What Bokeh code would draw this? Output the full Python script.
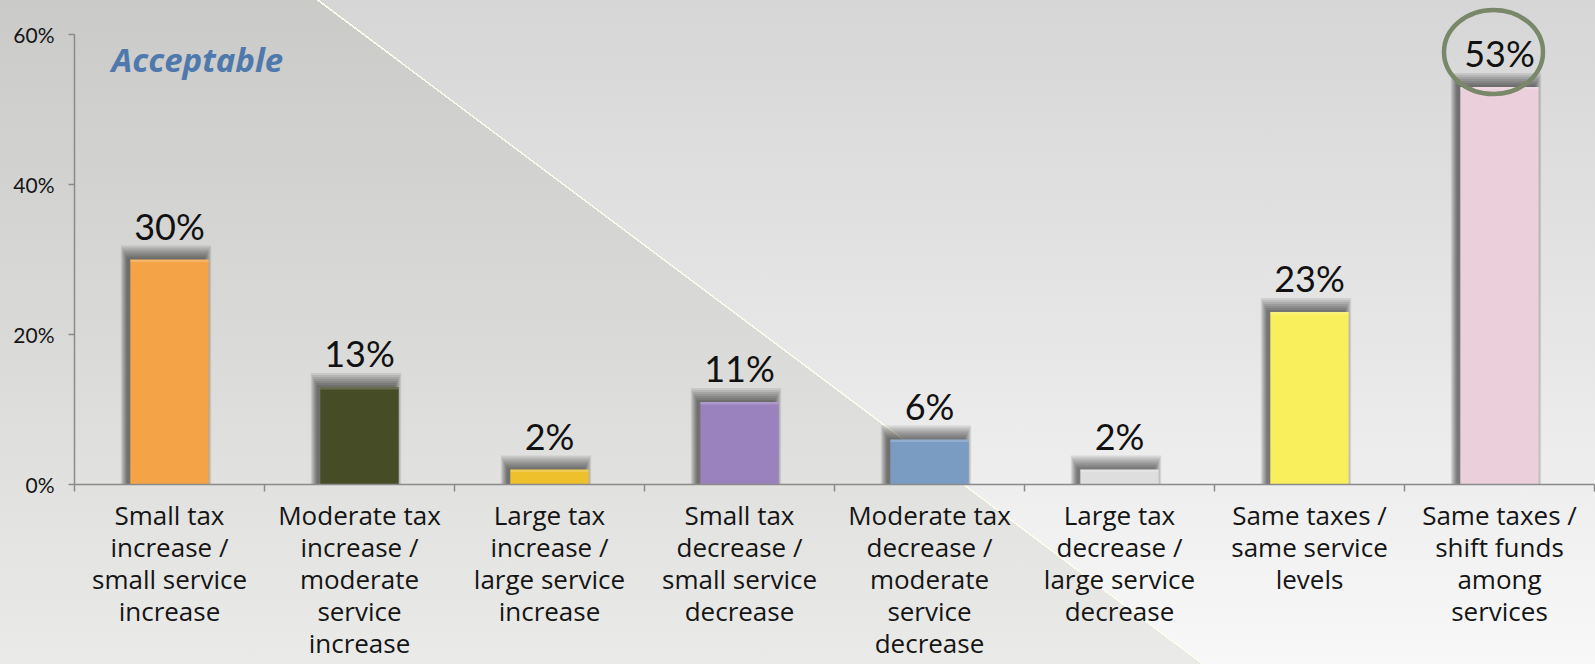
from bokeh.plotting import figure
from bokeh.models import FixedTicker, PrintfTickFormatter, Label, Range1d
from bokeh.core.properties import value
from bokeh.embed import file_html
from bokeh.resources import INLINE

# ---------------- data ----------------
categories = [
    "Small tax\nincrease /\nsmall service\nincrease",
    "Moderate tax\nincrease /\nmoderate\nservice\nincrease",
    "Large tax\nincrease /\nlarge service\nincrease",
    "Small tax\ndecrease /\nsmall service\ndecrease",
    "Moderate tax\ndecrease /\nmoderate\nservice\ndecrease",
    "Large tax\ndecrease /\nlarge service\ndecrease",
    "Same taxes /\nsame service\nlevels",
    "Same taxes /\nshift funds\namong\nservices",
]
values = [30, 13, 2, 11, 6, 2, 23, 53]
value_labels = ["30%", "13%", "2%", "11%", "6%", "2%", "23%", "53%"]
colors = ["#F4A447", "#464C26", "#EEC12C", "#9A82BE", "#7A9BC2",
          "#DEDEDE", "#F9EE5B", "#EBD0DC"]
y_ticks = [0, 20, 40, 60]
highlight_index = 7
title_text = "Acceptable"

# ---------------- geometry / style ----------------
W, H = 1595, 664
FRAME_LEFT, FRAME_RIGHT, FRAME_BOTTOM = 74, 1, 180
PX_PER_PCT = 7.5
n = len(categories)
xs = [i + 0.5 for i in range(n)]
bar_w = 0.4125
frame_w = W - FRAME_LEFT - FRAME_RIGHT
px_x = frame_w / n  # pixels per category unit
y_top = (H - FRAME_BOTTOM) / PX_PER_PCT

# background: vertical light-grey gradient plus a darker diagonal wedge on the left
background = (
    "linear-gradient(36.87deg, rgba(40,40,10,0.065) 0px, rgba(40,40,10,0.065) 721px, "
    "rgba(255,255,235,0.9) 721px, rgba(255,255,235,0.9) 722.5px, "
    "rgba(0,0,0,0) 722.5px), "
    "linear-gradient(to bottom, #d6d6d6 0%, #e6e6e6 50%, #f8f8f8 100%)"
)

p = figure(width=W, height=H, x_range=Range1d(0, n), y_range=Range1d(0, y_top),
           output_backend="svg", toolbar_location=None,
           min_border_left=FRAME_LEFT, min_border_right=FRAME_RIGHT,
           min_border_top=0, min_border_bottom=FRAME_BOTTOM,
           styles={"background": background})
p.outline_line_color = None
p.grid.visible = False
p.background_fill_color = None
p.border_fill_color = None

# ---------------- bar shadows (soft, offset up-left) ----------------
for k in range(7):
    grow_px = 2 * k
    p.vbar(x=[x - 3.5 / px_x for x in xs], width=bar_w + grow_px / px_x,
           top=[v + (2 + grow_px) / PX_PER_PCT for v in values], bottom=0,
           fill_color="black", fill_alpha=0.09, line_color=None)

# ---------------- bars ----------------
p.vbar(x=xs, width=bar_w, top=values, bottom=0, fill_color=colors,
       line_color=None)
# light bevel on top edge
p.vbar(x=xs, width=bar_w, top=values,
       bottom=[v - 2.5 / PX_PER_PCT for v in values],
       fill_color="white", fill_alpha=0.18, line_color=None)

# ---------------- value labels ----------------
p.text(x=xs, y=[v + 34 / PX_PER_PCT for v in values], text=value_labels,
       text_align="center", text_baseline="alphabetic",
       text_font=value("Lato"), text_font_size="36px", text_color="#111111")

# highlight ellipse
p.ellipse(x=[xs[highlight_index] - 6 / px_x],
          y=[values[highlight_index] + 35 / PX_PER_PCT],
          width=99, height=84, width_units="screen", height_units="screen",
          fill_color=None, line_color="#788868", line_width=4.5)

# title label
p.add_layout(Label(x=(111 - 74) / px_x, y=(484.7 - 60) / PX_PER_PCT,
                   text=title_text, text_font="Noto Sans",
                   text_font_style="bold italic", text_font_size="33px",
                   text_color="#4F79AD", text_baseline="middle"))

# ---------------- axes ----------------
xa = p.xaxis[0]
xa.ticker = FixedTicker(ticks=xs, minor_ticks=list(range(n + 1)))
xa.major_label_overrides = {x: c for x, c in zip(xs, categories)}
xa.major_tick_line_color = None
xa.major_tick_out = 0
xa.major_tick_in = 0
xa.minor_tick_line_color = "#8a8a8a"
xa.minor_tick_line_width = 1.5
xa.minor_tick_out = 7
xa.minor_tick_in = 0
xa.axis_line_color = "#8a8a8a"
xa.axis_line_width = 1.5
xa.major_label_standoff = 5
xa.major_label_text_font = "Open Sans"
xa.major_label_text_font_size = "26px"
xa.major_label_text_line_height = 0.89
xa.major_label_text_color = "#151515"

ya = p.yaxis[0]
ya.ticker = FixedTicker(ticks=y_ticks, minor_ticks=[])
ya.formatter = PrintfTickFormatter(format="%d%%")
ya.bounds = (y_ticks[0], y_ticks[-1])
ya.major_tick_out = 6
ya.major_tick_in = 0
ya.major_tick_line_color = "#8a8a8a"
ya.major_tick_line_width = 1.5
ya.axis_line_color = "#8a8a8a"
ya.axis_line_width = 1.5
ya.major_label_standoff = 14
ya.major_label_text_font = "Lato"
ya.major_label_text_font_size = "21px"
ya.major_label_text_color = "#151515"

open("out.html", "w").write(file_html(p, INLINE))
